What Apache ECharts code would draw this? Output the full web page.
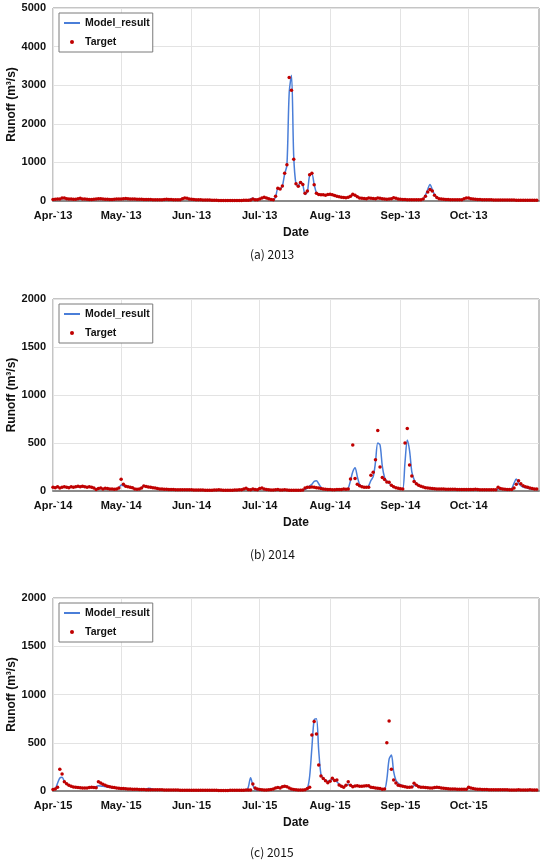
<!DOCTYPE html>
<html>
<head>
<meta charset="utf-8">
<script src="https://cdn.jsdelivr.net/npm/echarts@6/dist/echarts.min.js"></script>
<style>
  html, body { margin: 0; padding: 0; background: #fff; }
  #chart { width: 550px; height: 863px; }
</style>
</head>
<body>
<div id="chart"></div>
<script>
// daily runoff, Apr 1 .. Oct 31 (214 days), one line per month
const years = [2013, 2014, 2015];
const captions = ["(a) 2013", "(b) 2014", "(c) 2015"];
const yMax = [5000, 2000, 2000];
const yStep = [1000, 500, 500];

const model2013 = [
  35,40,45,50,60,65,60,55,50,48,45,50,55,52,48,45,42,40,42,45,50,52,50,48,45,42,40,42,45,50,
  52,55,58,56,54,52,50,48,46,45,42,40,38,36,35,34,33,32,33,36,40,40,38,35,33,32,34,50,85,75,55,
  45,40,35,32,30,28,26,25,24,22,20,18,16,15,14,14,13,12,12,13,14,15,16,18,22,30,55,70,45,35,
  50,75,85,70,55,40,28,100,320,320,390,700,930,2800,3260,1150,430,400,500,420,170,240,660,700,430,210,170,155,160,150,160,
  165,155,135,115,105,95,88,82,90,115,165,145,105,78,68,62,58,70,68,62,58,75,68,58,50,45,48,58,80,68,52,
  44,40,37,34,32,31,30,30,31,33,50,150,300,430,300,160,90,60,50,44,40,37,34,32,31,30,31,33,55,75,
  72,58,48,43,39,36,34,32,31,30,29,28,27,26,25,25,24,24,23,23,22,22,22,21,21,20,20,20,20,20,20
];
const target2013 = [
  40,45,50,55,80,75,60,55,50,48,45,60,70,55,50,45,42,40,45,50,60,58,52,48,45,42,40,45,50,55,
  55,60,62,58,55,52,50,48,46,45,42,40,38,36,35,34,33,32,35,40,45,42,38,35,33,32,35,60,80,70,55,
  45,40,35,32,30,28,26,25,24,22,20,18,16,15,14,14,13,12,12,13,14,15,16,18,20,22,25,50,30,35,
  55,80,95,75,60,40,30,120,330,310,390,720,940,3200,2870,1080,450,380,480,430,200,260,680,720,420,200,170,160,165,150,170,
  175,160,140,120,110,100,90,85,95,120,175,150,110,80,70,65,60,75,70,65,60,80,70,60,50,45,50,60,85,70,55,
  45,40,38,35,33,32,30,30,32,35,55,120,230,300,260,150,90,60,50,45,40,38,35,33,32,30,32,35,60,80,
  75,60,50,45,40,38,35,33,32,30,30,28,28,27,26,25,25,24,24,23,23,22,22,22,21,21,20,20,20,20,20
];

const model2014 = [
  42,38,40,35,38,42,40,38,42,40,42,45,44,46,44,42,42,38,32,22,25,28,24,26,24,22,20,20,21,30,
  62,55,48,42,38,32,22,20,22,35,58,50,44,38,34,30,26,22,20,18,17,16,15,15,14,14,13,13,12,12,12,
  12,11,11,10,10,10,9,9,9,9,10,10,11,10,9,9,8,8,9,10,10,11,13,18,35,18,12,18,14,12,
  22,28,18,14,12,10,10,12,14,10,10,11,10,9,9,8,8,9,10,12,18,30,55,70,100,107,75,40,22,18,15,
  14,13,13,14,14,15,18,17,30,110,200,243,150,70,50,42,40,55,110,150,300,500,480,260,140,100,80,55,40,32,26,
  22,20,300,530,420,200,120,80,62,50,42,36,31,28,26,24,22,21,20,20,19,18,18,17,17,16,16,15,15,15,
  15,15,15,16,15,14,14,13,13,13,13,13,12,20,28,20,17,15,15,25,80,125,80,55,42,35,28,24,21,19,17
];
const target2014 = [
  40,35,45,30,40,45,40,35,45,40,45,50,45,50,45,40,45,40,30,15,25,30,20,28,25,22,20,18,20,30,
  122,70,50,45,40,35,20,18,22,30,52,48,42,38,35,30,25,22,20,18,17,16,15,15,14,14,13,13,12,12,12,
  12,11,11,10,10,10,9,9,9,9,10,10,12,10,9,9,8,8,9,10,10,12,14,20,28,15,12,20,15,12,
  25,30,20,15,12,10,10,12,15,10,10,12,10,9,9,8,8,8,9,10,30,38,40,42,38,35,30,25,20,18,16,
  15,14,14,15,15,16,20,18,22,125,478,130,70,55,45,40,38,40,165,195,325,630,250,140,120,95,90,60,45,35,28,
  24,21,500,650,270,155,100,75,60,50,42,35,30,28,25,24,22,21,20,20,19,18,18,17,17,16,16,15,15,15,
  15,15,16,18,15,14,14,13,13,14,13,13,12,38,25,20,18,16,15,15,30,70,107,75,55,45,38,30,25,22,20
];

const model2015 = [
  18,25,80,135,142,100,75,60,50,42,38,35,33,32,31,32,34,36,38,45,55,52,48,45,42,38,34,31,29,27,
  26,25,24,22,20,19,18,17,16,15,15,18,28,25,16,12,12,12,12,11,11,11,10,10,10,10,9,9,9,9,9,
  9,8,8,8,8,8,7,7,7,7,7,7,6,6,6,6,6,7,7,8,8,8,9,9,10,40,138,60,15,10,
  10,9,9,10,12,15,22,35,40,35,45,55,45,30,15,12,10,10,10,10,12,25,150,450,740,750,420,170,130,110,100,
  110,120,115,95,70,50,45,60,70,55,50,55,52,48,50,55,50,45,38,33,28,25,20,18,18,120,330,373,200,110,80,
  65,55,48,45,42,40,55,62,55,45,40,38,36,34,32,30,33,35,33,29,27,25,24,22,20,20,19,18,18,17,
  32,28,24,20,18,17,16,15,15,14,14,13,13,13,12,12,12,12,11,11,11,11,11,11,11,10,10,10,10,10,10
];
const target2015 = [
  15,20,40,225,176,97,75,60,50,42,38,35,33,32,30,32,35,38,36,34,97,83,70,60,50,45,40,35,30,28,
  26,25,24,22,20,19,18,17,16,15,15,14,14,13,13,12,12,12,12,11,11,11,10,10,10,10,9,9,9,9,9,
  9,8,8,8,8,8,7,7,7,7,7,7,6,6,6,6,6,7,7,8,8,8,9,9,10,10,10,73,30,20,
  15,12,10,10,12,15,20,30,35,30,45,50,45,30,20,15,12,10,10,10,12,25,38,580,720,590,270,155,130,107,85,
  100,131,110,114,62,50,38,60,97,60,45,52,55,50,48,52,55,55,40,35,30,28,25,18,20,500,725,225,114,83,60,
  55,50,45,40,38,42,80,60,45,40,38,36,34,32,30,35,38,35,30,28,25,24,22,20,20,19,18,18,17,17,
  38,30,25,20,18,17,16,15,15,14,14,13,13,13,12,12,12,12,11,11,11,11,12,11,11,10,10,12,11,10,10
];

const modelData = [model2013, model2014, model2015];
const targetData = [target2013, target2014, target2015];

const MONTHS = ["Jan","Feb","Mar","Apr","May","Jun","Jul","Aug","Sep","Oct","Nov","Dec"];

// Apr 1 .. Nov 1 as category strings
function dayList(year) {
  const out = [];
  const d = new Date(Date.UTC(year, 3, 1));
  const end = Date.UTC(year, 10, 1);
  while (d.getTime() <= end) {
    out.push(d.toISOString().slice(0, 10));
    d.setUTCDate(d.getUTCDate() + 1);
  }
  return out;
}
const isMonthStart = (idx, val) => val.slice(8) === "01" && val.slice(5, 7) !== "11";

const gridTops = [8, 299, 598];
const gridHeights = [193, 192, 193];
const captionTops = [248, 548, 846];

const chart = echarts.init(document.getElementById("chart"));
const font = "Liberation Sans";

const grids = [], xAxes = [], yAxes = [], series = [], legends = [], titles = [];
years.forEach((yr, i) => {
  grids.push({
    left: 53, top: gridTops[i], width: 486, height: gridHeights[i],
    outerBoundsMode: "none", containLabel: false,
    show: true, borderColor: "#8a8a8a", borderWidth: 1
  });
  xAxes.push({
    type: "category", gridIndex: i, data: dayList(yr), boundaryGap: false,
    name: "Date", nameLocation: "middle", nameGap: 26, nameMoveOverlap: false,
    nameTextStyle: { fontFamily: font, fontSize: 12, fontWeight: "bold", color: "#111" },
    axisLine: { lineStyle: { color: "#8a8a8a", width: 2 } },
    axisTick: { show: false },
    axisLabel: {
      interval: isMonthStart, margin: 9,
      fontFamily: font, fontSize: 11, fontWeight: "bold", color: "#111",
      formatter: (v) => MONTHS[+v.slice(5, 7) - 1] + "-`" + v.slice(2, 4)
    },
    splitLine: { show: true, interval: isMonthStart, lineStyle: { color: "#e3e3e3", width: 1 } }
  });
  yAxes.push({
    type: "value", gridIndex: i, min: 0, max: yMax[i], interval: yStep[i],
    name: "Runoff (m³/s)", nameLocation: "middle", nameGap: 35, nameMoveOverlap: false,
    nameTextStyle: { fontFamily: font, fontSize: 12, fontWeight: "bold", color: "#111" },
    axisLine: { show: false },
    axisTick: { show: false },
    axisLabel: {
      margin: 7, fontFamily: font, fontSize: 11, fontWeight: "bold", color: "#111",
      formatter: (v) => String(v)
    },
    splitLine: { lineStyle: { color: "#e3e3e3", width: 1 } }
  });
  series.push({
    name: "Model_result", type: "line", xAxisIndex: i, yAxisIndex: i,
    data: modelData[i], symbol: "none", smooth: 0.3,
    lineStyle: { color: "#4a7ed8", width: 1.5 }, itemStyle: { color: "#4a7ed8" },
    z: 2
  });
  series.push({
    name: "Target", type: "line", xAxisIndex: i, yAxisIndex: i,
    data: targetData[i], symbol: "circle", symbolSize: 3.5, showSymbol: true, showAllSymbol: true,
    lineStyle: { width: 0, opacity: 0 }, itemStyle: { color: "#c00000" },
    z: 3
  });
  legends.push({
    orient: "vertical", left: 59, top: gridTops[i] + 5,
    padding: [3, 3, 3, 4], itemGap: 5, itemWidth: 16, itemHeight: 5,
    borderColor: "#7a7a7a", borderWidth: 1, backgroundColor: "#fff",
    textStyle: { fontFamily: font, fontSize: 10.5, fontWeight: "bold", color: "#111", lineHeight: 14 },
    data: [
      { name: "Model_result", itemStyle: { opacity: 0 } },
      { name: "Target", lineStyle: { opacity: 0, width: 0 } }
    ],
    selectedMode: false
  });
  titles.push({
    text: captions[i], left: 250, top: captionTops[i], padding: 0,
    textStyle: { fontFamily: "Noto Sans CJK KR", fontSize: 12, fontWeight: "normal", color: "#111" }
  });
});

chart.setOption({
  animation: false,
  title: titles,
  legend: legends,
  grid: grids,
  xAxis: xAxes,
  yAxis: yAxes,
  series: series
});
</script>
</body>
</html>
